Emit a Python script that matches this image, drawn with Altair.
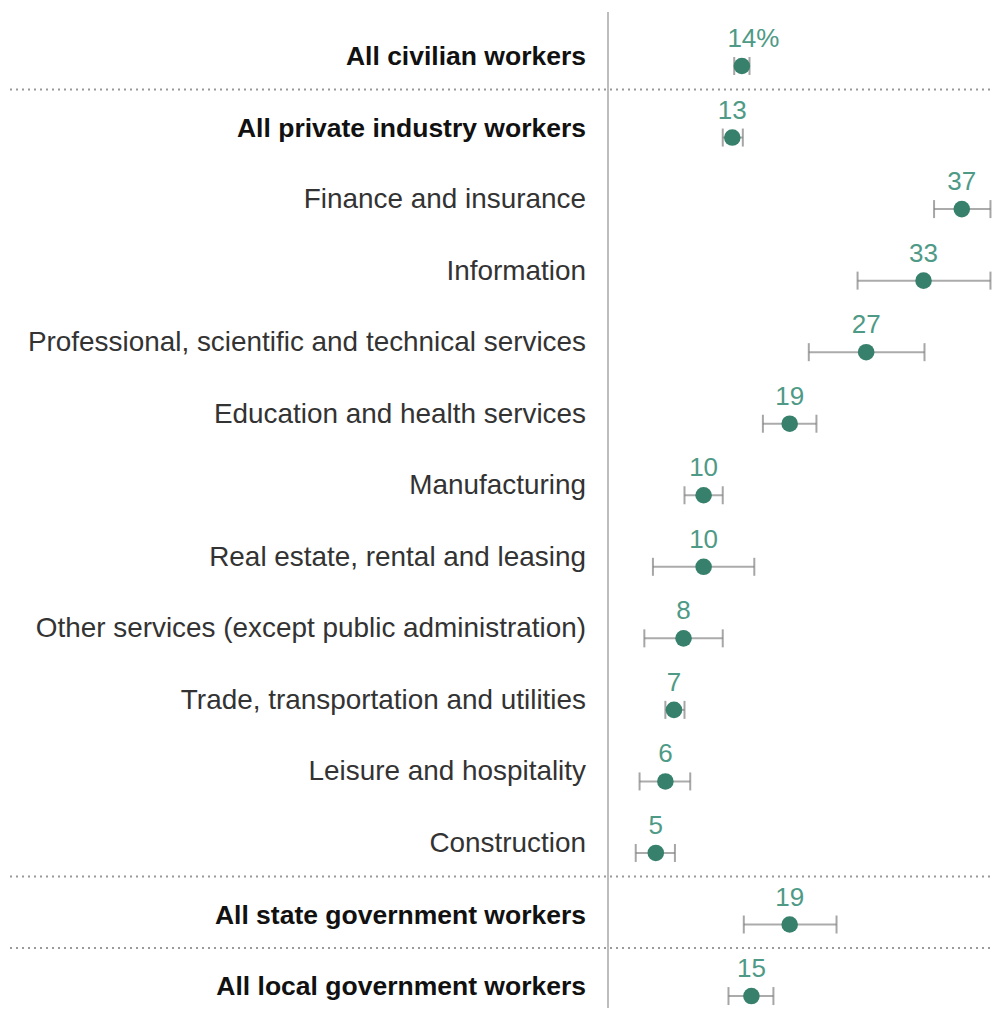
import altair as alt
import pandas as pd

labels = [
    "All civilian workers",
    "All private industry workers",
    "Finance and insurance",
    "Information",
    "Professional, scientific and technical services",
    "Education and health services",
    "Manufacturing",
    "Real estate, rental and leasing",
    "Other services (except public administration)",
    "Trade, transportation and utilities",
    "Leisure and hospitality",
    "Construction",
    "All state government workers",
    "All local government workers",
]
values = [14.0, 13.0, 37.0, 33.0, 27.0, 19.0, 10.0, 10.0, 7.9, 6.9, 6.0, 5.0, 19.0, 15.0]
lows = [13.2, 12.0, 34.1, 26.1, 21.0, 16.2, 8.0, 4.7, 3.8, 6.0, 3.3, 2.9, 14.2, 12.6]
highs = [14.8, 14.1, 40.0, 40.0, 33.1, 21.8, 12.0, 15.3, 12.0, 8.0, 8.6, 7.0, 23.9, 17.3]
value_text = ["14", "13", "37", "33", "27", "19", "10", "10", "8", "7", "6", "5", "19", "15"]
value_suffix = ["%", "", "", "", "", "", "", "", "", "", "", "", "", ""]
bold_rows = [True, True, False, False, False, False, False, False, False, False, False, False, True, True]
separator_after = [0, 11, 12]

df = pd.DataFrame({
    "label": labels,
    "value": values,
    "lo": lows,
    "hi": highs,
    "vtext": value_text,
    "suffix": value_suffix,
    "bold": bold_rows,
    "row": list(range(len(labels))),
})
sep_df = pd.DataFrame({"row": [r + 0.33 for r in separator_after]})

W, H = 384, 1000
xscale = alt.Scale(domain=[0, 40.16], nice=False, zero=False)
yscale = alt.Scale(domain=[-0.8107, 13.167], reverse=True, nice=False, zero=False)
X = lambda f: alt.X(f, type="quantitative", scale=xscale, axis=None)
Y = alt.Y("row:Q", scale=yscale, axis=None)

base = alt.Chart(df)

vline = alt.Chart(pd.DataFrame({"a": [0]})).mark_rule(color="#bdbdbd", strokeWidth=2).encode(
    x=alt.value(0), y=alt.value(4), y2=alt.value(H)
)

seps = alt.Chart(sep_df).mark_rule(color="#9a9a9a", strokeWidth=2, strokeDash=[2, 4]).encode(
    y=alt.Y("row:Q", scale=yscale, axis=None), x=alt.value(-598), x2=alt.value(W)
)

bars = base.mark_rule(color="#ababab", strokeWidth=2).encode(x=X("lo"), x2="hi", y=Y)
cap_lo = base.mark_tick(orient="vertical", color="#808080", size=18, thickness=2).encode(x=X("lo"), y=Y)
cap_hi = base.mark_tick(orient="vertical", color="#808080", size=18, thickness=2).encode(x=X("hi"), y=Y)

dots = base.mark_circle(size=275, color="#37806c", opacity=1).encode(x=X("value"), y=Y)

vlabels = base.mark_text(
    fontSize=26, font="Liberation Sans", color="#4e9a86", baseline="alphabetic", align="center", dy=-19
).encode(x=X("value"), y=Y, text="vtext:N")

vsuffix = base.transform_filter("datum.suffix != ''").mark_text(
    fontSize=26, font="Liberation Sans", color="#4e9a86", baseline="alphabetic", align="left",
    dy=-19, dx=14.5
).encode(x=X("value"), y=Y, text="suffix:N")

cat_regular = base.transform_filter("!datum.bold").mark_text(
    fontSize=27.9, font="Liberation Sans", color="#333333", align="right", baseline="alphabetic", dy=-1
).encode(x=alt.value(-22), y=Y, text="label:N")

cat_bold = base.transform_filter("datum.bold").mark_text(
    fontSize=26.5, font="Liberation Sans", fontWeight="bold", color="#111111", align="right",
    baseline="alphabetic", dy=-1
).encode(x=alt.value(-22), y=Y, text="label:N")

chart = alt.layer(vline, seps, bars, cap_lo, cap_hi, dots, vlabels, vsuffix, cat_regular, cat_bold).properties(
    width=W, height=H,
    autosize=alt.AutoSizeParams(type="none"),
    padding={"left": 600, "top": 0, "right": 0, "bottom": 0},
).configure_view(stroke=None)

chart.save("out.html", embed_options={"renderer": "svg", "actions": False})
